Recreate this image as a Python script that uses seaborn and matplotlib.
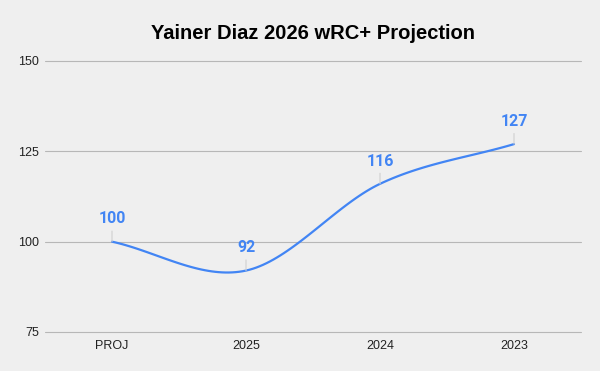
import numpy as np
import pandas as pd
import matplotlib
matplotlib.use("Agg")
import matplotlib.pyplot as plt
import seaborn as sns

seasons = ["PROJ", "2025", "2024", "2023"]
wrc_plus = [100, 92, 116, 127]

title = "Yainer Diaz 2026 wRC+ Projection"
yticks = [75, 100, 125, 150]

bg = "#efefef"
blue = "#4285f4"

sns.set_theme(style="white")
plt.rcParams["font.family"] = ["Liberation Sans", "DejaVu Sans"]

fig, ax = plt.subplots(figsize=(6, 3.71), dpi=100)
fig.patch.set_facecolor(bg)
ax.set_facecolor(bg)
fig.subplots_adjust(left=45 / 600, right=581 / 600, bottom=39 / 371, top=310 / 371)

# smooth the line like the spreadsheet does (Catmull-Rom style cubic)
pos = np.arange(len(wrc_plus), dtype=float)
vals = np.array(wrc_plus, dtype=float)
tang = np.gradient(vals, pos)
xs, ys = [], []
for i in range(len(vals) - 1):
    t = np.linspace(0, 1, 40)
    h00 = 2 * t**3 - 3 * t**2 + 1
    h10 = t**3 - 2 * t**2 + t
    h01 = -2 * t**3 + 3 * t**2
    h11 = t**3 - t**2
    xs.extend(pos[i] + t)
    ys.extend(h00 * vals[i] + h10 * tang[i] + h01 * vals[i + 1] + h11 * tang[i + 1])
smooth = pd.DataFrame({"x": xs, "y": ys})

sns.lineplot(data=smooth, x="x", y="y", color=blue, linewidth=1.6, ax=ax, sort=False)

for i, v in enumerate(wrc_plus):
    ax.annotate(str(v), xy=(i, v), xytext=(0, 11), textcoords="offset points",
                ha="center", va="bottom", color=blue, fontsize=11.5,
                fontweight="bold", family=["Roboto", "DejaVu Sans"],
                arrowprops=dict(arrowstyle="-", color="#cfcfcf", lw=0.8,
                                shrinkA=1, shrinkB=0))

ax.set_xlim(-0.5, len(seasons) - 0.5)
ax.set_ylim(75, 150)
ax.set_xticks(range(len(seasons)))
ax.set_xticklabels(seasons)
ax.set_yticks(yticks)
ax.tick_params(axis="both", labelsize=9, colors="#222222", length=0)
ax.tick_params(axis="y", pad=4.5)
ax.tick_params(axis="x", pad=6)
ax.yaxis.grid(True, color="#b7b7b7", linewidth=0.8)
for gl in ax.get_ygridlines():
    gl.set_clip_on(False)
ax.set_axisbelow(True)
for s in ax.spines.values():
    s.set_visible(False)
ax.set_xlabel("")
ax.set_ylabel("")
ax.set_title(title, fontsize=14.5, fontweight="bold", color="#000000", pad=16)

fig.savefig("out.png", dpi=100, facecolor=bg)
